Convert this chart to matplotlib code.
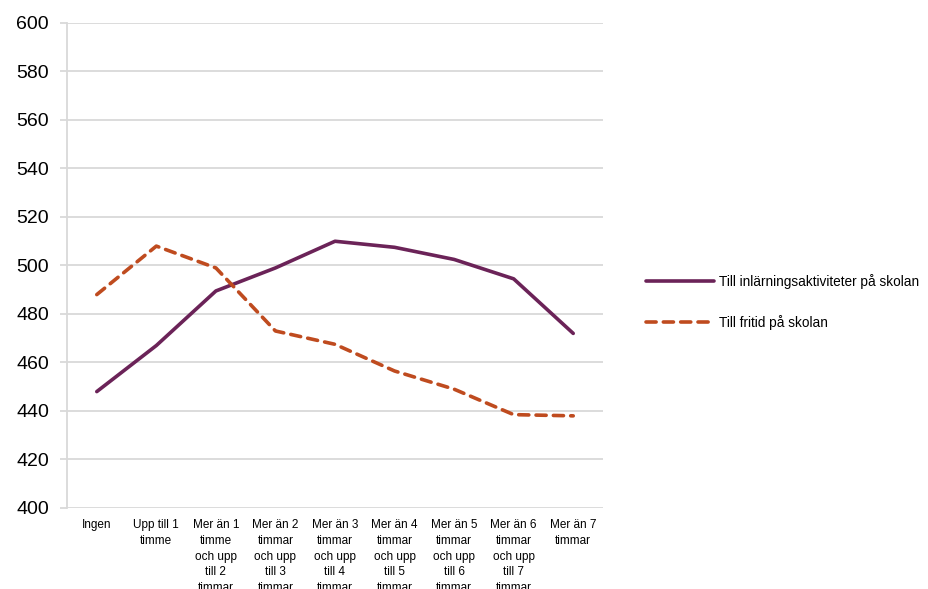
import matplotlib.pyplot as plt
import numpy as np

plt.rcParams['font.family'] = ['Liberation Sans', 'DejaVu Sans']

# categories (x axis)
kategorier = [
    "Ingen",
    "Upp till 1\ntimme",
    "Mer än 1\ntimme\noch upp\ntill 2\ntimmar",
    "Mer än 2\ntimmar\noch upp\ntill 3\ntimmar",
    "Mer än 3\ntimmar\noch upp\ntill 4\ntimmar",
    "Mer än 4\ntimmar\noch upp\ntill 5\ntimmar",
    "Mer än 5\ntimmar\noch upp\ntill 6\ntimmar",
    "Mer än 6\ntimmar\noch upp\ntill 7\ntimmar",
    "Mer än 7\ntimmar",
]

# values
inlarning = [448, 467, 489.5, 499, 510, 507.5, 502.5, 494.5, 472]
fritid = [488, 508, 499, 473, 467.5, 456.5, 449, 438.5, 438]

namn_inlarning = "Till inlärningsaktiviteter på skolan"
namn_fritid = "Till fritid på skolan"

yticks = np.arange(400, 601, 20)

fig = plt.figure(figsize=(9.29, 5.89), dpi=100)
ax = fig.add_axes([67/929, 1 - 508/589, (603 - 67)/929, (508 - 23)/589])

x = np.arange(len(kategorier))
ax.plot(x, inlarning, color="#6B2358", lw=2.6, solid_capstyle="round",
        solid_joinstyle="round", label=namn_inlarning)
ax.plot(x, fritid, color="#BF4B1F", lw=2.6, linestyle=(0, (2.8, 2.0)),
        dash_capstyle="round", label=namn_fritid)

ax.set_xlim(-0.5, len(kategorier) - 0.5)
ax.set_ylim(400, 600)
ax.set_yticks(yticks)
ax.yaxis.grid(True, color="#D9D9D9", lw=1.3)
ax.set_axisbelow(True)

for s in ["top", "right", "bottom"]:
    ax.spines[s].set_visible(False)
ax.spines["left"].set_color("#D9D9D9")
ax.spines["left"].set_linewidth(1.3)

# the lowest lines of the long labels run off the bottom edge, as in the original
ax.set_xticks(x)
ax.set_xticklabels(kategorier, fontsize=8.5, linespacing=1.42, va="top",
                   ha="center")
ax.tick_params(axis="x", length=0, pad=8)
ax.tick_params(axis="y", length=5, color="#D9D9D9", width=1.3,
               labelsize=14, pad=8)

fig.legend(loc="center left", bbox_to_anchor=(634/929, 1 - 302/589),
           frameon=False, fontsize=9.8, handlelength=5.0, labelspacing=1.95,
           handletextpad=0.35)

fig.savefig("out.png", dpi=100)
